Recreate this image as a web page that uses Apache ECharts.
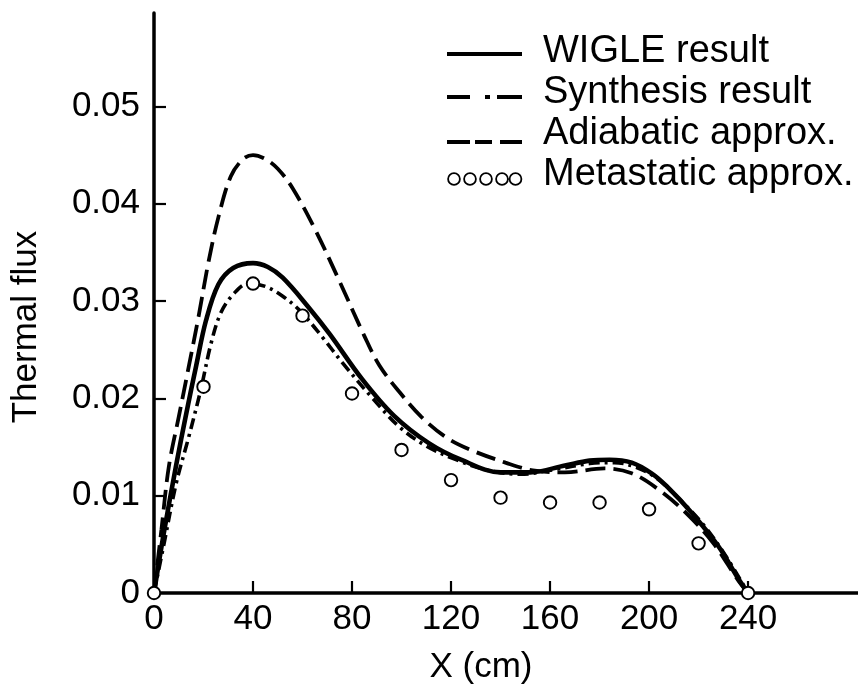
<!DOCTYPE html>
<html>
<head>
<meta charset="utf-8">
<script src="https://cdn.jsdelivr.net/npm/echarts@6/dist/echarts.min.js"></script>
<style>
  html, body { margin: 0; padding: 0; background: #fff; }
  #chart { width: 858px; height: 686px; }
</style>
</head>
<body>
<div id="chart"></div>
<script>
// Thermal flux profiles along X (cm)
const seriesNames = ['WIGLE result', 'Synthesis result', 'Adiabatic approx.', 'Metastatic approx.'];

// [X (cm), thermal flux]
const wigle = [
  [0, 0], [4, 0.0062], [9, 0.0132], [13, 0.0184], [17, 0.0233], [21, 0.0280],
  [26, 0.0317], [32, 0.0334], [40, 0.0339], [46, 0.0335], [52, 0.0324],
  [62, 0.0295], [71, 0.0266], [84, 0.0220], [97, 0.0182], [111, 0.0154],
  [124, 0.0137], [140, 0.0124], [152, 0.0124], [166, 0.0131], [176, 0.0136],
  [184, 0.0137], [193, 0.0134], [201, 0.0123], [207, 0.0110], [217, 0.0083],
  [228, 0.0048], [236, 0.0015], [240, 0]
];

const synthesis = [
  [0, 0], [4, 0.0050], [9, 0.0113], [14, 0.0160], [19, 0.0210], [23, 0.0256],
  [27, 0.0288], [32, 0.0307], [38, 0.0318], [45, 0.0315], [52, 0.0305],
  [59, 0.0290], [68, 0.0263], [76, 0.0237], [88, 0.0201], [99, 0.0171],
  [110, 0.0151], [122, 0.0137], [135, 0.0126], [148, 0.0122], [162, 0.0127],
  [176, 0.0133], [186, 0.0134], [195, 0.0129], [203, 0.0118], [212, 0.0097],
  [222, 0.0070], [231, 0.0038], [240, 0]
];

const adiabatic = [
  [0, 0], [3, 0.0065], [6, 0.0130], [10, 0.0181], [14, 0.0232], [18, 0.0284],
  [22, 0.0340], [26, 0.0386], [31, 0.0428], [36, 0.0446], [40, 0.0450],
  [45, 0.0446], [50, 0.0436], [56, 0.0416], [65, 0.0374], [75, 0.0320],
  [85, 0.0264], [91, 0.0234], [99, 0.0207], [108, 0.0181], [118, 0.0160],
  [128, 0.0147], [142, 0.0134], [153, 0.0126], [166, 0.0124], [182, 0.0128],
  [193, 0.0123], [204, 0.0106], [215, 0.0082], [226, 0.0051], [236, 0.0013],
  [240, 0]
];

const metastaticX = [0, 20, 40, 60, 80, 100, 120, 140, 160, 180, 200, 220, 240];
const metastaticY = [0, 0.0212, 0.0318, 0.0285, 0.0205, 0.0147, 0.0116, 0.0098,
                     0.0093, 0.0093, 0.0086, 0.0051, 0];

const xTickValues = [0, 40, 80, 120, 160, 200, 240];
const yTickValues = [0, 0.01, 0.02, 0.03, 0.04, 0.05];

const FONT = 'Liberation Sans, Arial, Helvetica, sans-serif';
const INK = '#000';

// ---- legend sample shapes (76 x 41 box, anchored by the two corner moves) ----
function box(path) { return 'path://M0,0M76,41' + path; }
function bar(x0, x1, yc, h) {
  const a = yc - h / 2, b = yc + h / 2;
  return `M${x0},${a}L${x1},${a}L${x1},${b}L${x0},${b}Z`;
}
function ring(cx, cy, r, ri) {
  return `M${cx - r},${cy}A${r},${r},0,1,0,${cx + r},${cy}A${r},${r},0,1,0,${cx - r},${cy}Z` +
         `M${cx - ri},${cy}A${ri},${ri},0,1,1,${cx + ri},${cy}A${ri},${ri},0,1,1,${cx - ri},${cy}Z`;
}
const legendIcons = [
  box(bar(0, 75, 23, 4.2)),
  box(bar(0, 23, 25, 4) + bar(38, 43, 25, 4) + bar(50, 75, 25, 4)),
  box(bar(0, 23, 29, 4) + bar(28, 45, 29, 4) + bar(53, 75, 29, 4)),
  box([7, 23, 39, 55, 68.5].map(cx => ring(cx, 25, 6.8, 5.0)).join(''))
];

const chart = echarts.init(document.getElementById('chart'), null, { renderer: 'canvas' });

chart.setOption({
  animation: false,
  backgroundColor: '#fff',
  grid: { left: 154, right: 0, top: 13, bottom: 93, outerBoundsMode: 'none' },
  legend: {
    orient: 'vertical',
    left: 447,
    top: 31,
    padding: 0,
    itemGap: 0,
    itemWidth: 76,
    itemHeight: 41,
    selectedMode: false,
    itemStyle: { color: INK, borderWidth: 0 },
    textStyle: { fontFamily: FONT, fontSize: 38, lineHeight: 41, color: INK, padding: [0, 0, 0, 15] },
    data: seriesNames.map((n, i) => ({ name: n, icon: legendIcons[i] }))
  },
  xAxis: {
    type: 'value',
    min: 0,
    max: 284.4,
    name: 'X (cm)',
    nameLocation: 'middle',
    nameGap: 57,
    nameTextStyle: { fontFamily: FONT, fontSize: 35, color: INK, padding: [0, 50, 0, 0] },
    axisLine: { show: true, onZero: false, lineStyle: { color: INK, width: 3.5 } },
    axisTick: {
      show: true, inside: true, length: 12,
      customValues: xTickValues.filter(v => v > 0),
      lineStyle: { color: INK, width: 2.2 }
    },
    axisLabel: {
      customValues: xTickValues,
      margin: 9,
      fontFamily: FONT, fontSize: 35, color: INK
    },
    splitLine: { show: false }
  },
  yAxis: {
    type: 'value',
    min: 0,
    max: 0.0596,
    name: 'Thermal flux',
    nameLocation: 'middle',
    nameGap: 110,
    nameTextStyle: { fontFamily: FONT, fontSize: 35, color: INK, padding: [0, 48, 0, 0] },
    axisLine: { show: true, onZero: false, lineStyle: { color: INK, width: 3.5 } },
    axisTick: {
      show: true, inside: true, length: 12,
      customValues: yTickValues.filter(v => v > 0),
      lineStyle: { color: INK, width: 2.2 }
    },
    axisLabel: {
      customValues: yTickValues,
      margin: 14,
      fontFamily: FONT, fontSize: 35, color: INK,
      formatter: v => (v === 0 ? '0' : v.toFixed(2))
    },
    splitLine: { show: false }
  },
  series: [
    {
      name: seriesNames[0], type: 'line', data: wigle,
      symbol: 'none', smooth: 0.35,
      lineStyle: { color: INK, width: 4.6, type: 'solid' },
      itemStyle: { color: INK }, z: 3
    },
    {
      name: seriesNames[1], type: 'line', data: synthesis,
      symbol: 'none', smooth: 0.35,
      lineStyle: { color: INK, width: 3.6, type: [11, 5, 3, 5], cap: 'butt' },
      itemStyle: { color: INK }, z: 2
    },
    {
      name: seriesNames[2], type: 'line', data: adiabatic,
      symbol: 'none', smooth: 0.35,
      lineStyle: { color: INK, width: 3.8, type: [20, 8], cap: 'butt' },
      itemStyle: { color: INK }, z: 2
    },
    {
      name: seriesNames[3], type: 'scatter',
      data: metastaticX.map((x, i) => [x, metastaticY[i]]),
      symbol: 'circle', symbolSize: 12.5,
      itemStyle: { color: '#fff', borderColor: INK, borderWidth: 1.9, opacity: 1 },
      z: 5
    }
  ]
});
</script>
</body>
</html>
